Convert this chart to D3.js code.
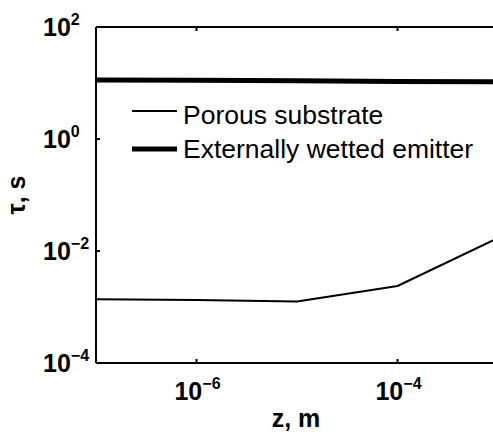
<!DOCTYPE html>
<html>
<head>
<meta charset="utf-8">
<script src="https://cdn.jsdelivr.net/npm/d3@7"></script>
<style>
  html, body { margin: 0; padding: 0; background: #fff; }
  svg { display: block; }
  text { font-family: "Liberation Sans", Arial, sans-serif; fill: #000; }
</style>
</head>
<body>
<svg id="chart" width="493" height="434"></svg>
<script>
// Depth z (m) and response time tau (s) for the two emitter types
const zValues = [1e-7, 1e-6, 1e-5, 1e-4, 1e-3];
const porousTau = [1.37e-3, 1.33e-3, 1.25e-3, 2.37e-3, 1.71e-2];
const externalTau = [11.3, 11.2, 11.0, 10.6, 10.5];
const seriesNames = ["Porous substrate", "Externally wetted emitter"];
const xTickExps = [-6, -4];
const yTickExps = [2, 0, -2, -4];

const svg = d3.select("#chart");
const plotLeft = 96, plotRight = 498, plotTop = 27, plotBottom = 363;

const x = d3.scaleLog().domain([1e-7, 1e-3]).range([plotLeft, plotRight]);
const y = d3.scaleLog().domain([1e-4, 1e2]).range([plotBottom, plotTop]);

svg.append("defs").append("clipPath").attr("id", "plotArea")
  .append("rect").attr("x", plotLeft).attr("y", plotTop)
  .attr("width", plotRight - plotLeft).attr("height", plotBottom - plotTop);

const line = d3.line().x(d => x(d[0])).y(d => y(d[1]));

const series = [
  { values: porousTau, width: 2 },
  { values: externalTau, width: 5 }
];

const plot = svg.append("g").attr("clip-path", "url(#plotArea)");
series.forEach(s => {
  plot.append("path")
    .datum(zValues.map((z, i) => [z, s.values[i]]))
    .attr("d", line)
    .attr("fill", "none")
    .attr("stroke", "#000")
    .attr("stroke-width", s.width)
    .attr("stroke-linejoin", "round");
});

// Axis box with inward ticks
const xTicks = xTickExps.map(e => Math.pow(10, e));
const yTicks = yTickExps.map(e => Math.pow(10, e));

const axes = svg.append("g").attr("stroke", "#000").attr("stroke-width", 2).attr("fill", "none");
axes.append("line").attr("x1", plotLeft).attr("x2", plotRight).attr("y1", plotTop).attr("y2", plotTop);
axes.append("line").attr("x1", plotLeft).attr("x2", plotRight).attr("y1", plotBottom).attr("y2", plotBottom);
axes.append("line").attr("x1", plotLeft).attr("x2", plotLeft).attr("y1", plotTop).attr("y2", plotBottom);
axes.append("line").attr("x1", plotRight).attr("x2", plotRight).attr("y1", plotTop).attr("y2", plotBottom);

xTicks.forEach(t => {
  axes.append("line").attr("x1", x(t)).attr("x2", x(t)).attr("y1", plotBottom).attr("y2", plotBottom - 4);
  axes.append("line").attr("x1", x(t)).attr("x2", x(t)).attr("y1", plotTop).attr("y2", plotTop + 4);
});
yTicks.forEach(t => {
  axes.append("line").attr("x1", plotLeft).attr("x2", plotLeft + 4).attr("y1", y(t)).attr("y2", y(t));
  axes.append("line").attr("x1", plotRight).attr("x2", plotRight - 4).attr("y1", y(t)).attr("y2", y(t));
});

function supLabel(g, base, exp, anchor) {
  const t = g.append("text")
    .attr("font-weight", "bold")
    .attr("font-size", 25)
    .attr("text-anchor", anchor);
  t.append("tspan").text(base);
  t.append("tspan").attr("font-size", 16).attr("dy", -11)
    .text(exp < 0 ? "\u2212" + Math.abs(exp) : String(exp));
  return t;
}

// Y tick labels
yTickExps.forEach(e => {
  supLabel(svg, "10", e, "start")
    .attr("x", 43).attr("y", y(Math.pow(10, e)) + 9);
});

// X tick labels
xTickExps.forEach(e => {
  supLabel(svg, "10", e, "middle")
    .attr("x", x(Math.pow(10, e)) + 1).attr("y", 400);
});

// Axis titles
svg.append("text")
  .attr("x", 296).attr("y", 427)
  .attr("text-anchor", "middle")
  .attr("font-weight", "bold").attr("font-size", 25)
  .text("z, m");

svg.append("text")
  .attr("transform", "translate(25,195) rotate(-90)")
  .attr("text-anchor", "middle")
  .attr("font-weight", "bold").attr("font-size", 25)
  .text("\u03c4, s");

// Legend
const legendRows = [
  { name: seriesNames[0], width: 2, lineY: 111, textY: 124 },
  { name: seriesNames[1], width: 5, lineY: 149, textY: 158 }
];
const legend = svg.append("g");
legendRows.forEach(r => {
  legend.append("line")
    .attr("x1", 132).attr("x2", 177)
    .attr("y1", r.lineY).attr("y2", r.lineY)
    .attr("stroke", "#000").attr("stroke-width", r.width);
  legend.append("text")
    .attr("x", 183).attr("y", r.textY)
    .attr("font-size", 26.5)
    .text(r.name);
});
</script>
</body>
</html>
